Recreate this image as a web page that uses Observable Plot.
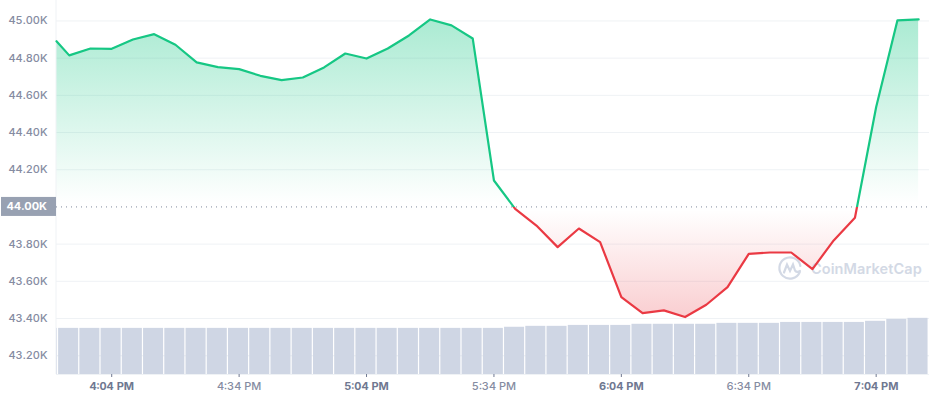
<!DOCTYPE html>
<html><head><meta charset="utf-8">
<script src="https://cdn.jsdelivr.net/npm/d3@7"></script>
<script src="https://cdn.jsdelivr.net/npm/@observablehq/plot@0.6"></script>
<style>html,body{margin:0;padding:0;background:#fff}svg{display:block}</style>
</head><body><div id="chart"></div>
<script>
const priceMinutes = [231,234,239,244,249,254,259,264,269,274,279,284,289,294,299,304,309,314,319,324,329,334,339,344,349,354,359,364,369,374,379,384,389,394,399,404,409,414,419,424,429,434];
const prices = [44891,44815,44852,44850,44900,44929,44872,44777,44752,44741,44705,44682,44696,44750,44825,44798,44852,44922,45008,44976,44906,44142,43990,43900,43784,43884,43811,43515,43429,43444,43408,43474,43569,43748,43755,43755,43666,43820,43942,44537,45003,45008];
const barMinutes = [229,234,239,244,249,254,259,264,269,274,279,284,289,294,299,304,309,314,319,324,329,334,339,344,349,354,359,364,369,374,379,384,389,394,399,404,409,414,419,424,429,434];
const barLevels = [43347,43347,43347,43347,43347,43347,43347,43347,43347,43347,43347,43347,43347,43347,43347,43347,43347,43347,43347,43347,43347,43347,43353,43358,43358,43363,43363,43363,43369,43369,43369,43369,43374,43374,43374,43379,43379,43379,43379,43385,43395,43401];
const yTicks = [43200,43400,43600,43800,44200,44400,44600,44800,45000];
const baseline = 44000;
const boldTicks = [244,304,364,424];
const lightTicks = [274,334,394];
const GREEN = "#16c784", RED = "#ea3943", GRID = "#eff2f5", LABEL = "#858ca2", DARK = "#6f7891";

const toDate = m => new Date(Date.UTC(2021, 0, 1) + m * 60000);
const fmtTime = d => { const h = d.getUTCHours(); return `${h % 12 || 12}:${String(d.getUTCMinutes()).padStart(2,"0")} PM`; };
const series = priceMinutes.map((m,i) => ({t: toDate(m), v: prices[i]}));
const bars = barMinutes.map((m,i) => ({t1: toDate(m-2.5), t2: toDate(m+2.5), v: barLevels[i]}));

function defsMark(index, scales) {
  const y0 = scales.y(baseline), yTop = scales.y(45000), yBot = scales.y(43400);
  const defs = d3.create("svg:defs");
  const area = defs.append("linearGradient").attr("id","areaGrad").attr("gradientUnits","userSpaceOnUse")
    .attr("x1",0).attr("x2",0).attr("y1",yTop).attr("y2",yBot);
  const off = (y0-yTop)/(yBot-yTop);
  [[0,GREEN,.36],[off-.01,GREEN,0],[off,GREEN,0],[off,RED,0],[off+.012,RED,0],[1,RED,.25]].forEach(([o,c,a]) =>
    area.append("stop").attr("offset",o).attr("stop-color",c).attr("stop-opacity",a));
  const line = defs.append("linearGradient").attr("id","lineGrad").attr("gradientUnits","userSpaceOnUse")
    .attr("x1",0).attr("x2",0).attr("y1",yTop).attr("y2",yBot);
  [[0,GREEN],[off,GREEN],[off,RED],[1,RED]].forEach(([o,c]) =>
    line.append("stop").attr("offset",o).attr("stop-color",c));
  return defs.node();
}
function badgeMark(index, scales) {
  const y0 = scales.y(baseline);
  const g = d3.create("svg:g");
  g.append("rect").attr("x",1).attr("width",55).attr("y",y0-9.5).attr("height",19).attr("fill","#98a1b2");
  g.append("text").attr("x",47).attr("y",y0).attr("dy","0.36em").attr("text-anchor","end")
    .attr("fill","#fff").attr("font-weight",700).attr("font-size",11).text("44.00K");
  return g.node();
}
function watermarkMark(index, scales, values, dims) {
  const g = d3.create("svg:g").attr("transform", `translate(${dims.width - 139},${dims.height - 132})`);
  const ink = "#d3d9e5";
  g.append("path").attr("fill","none").attr("stroke",ink).attr("stroke-width",2.2).attr("stroke-linecap","round")
    .attr("d","M9.8 4 A10.6 10.6 0 1 1 10.4 -2 M-6 4.5 L-3 -3.5 L0 3 L3 -3.5 L5 2.5 Q7 5 10 3");
  g.append("text").attr("x",21).attr("y",1).attr("dy","0.36em").attr("text-anchor","start").attr("fill",ink)
    .attr("font-size",14.5).attr("font-weight",600).attr("letter-spacing",0.1).text("CoinMarketCap");
  return g.node();
}
const chart = Plot.plot({
  width: 929, height: 400,
  marginLeft: 56, marginRight: 0, marginTop: 0, marginBottom: 26,
  style: {fontFamily: "Inter, sans-serif", fontSize: "11px", background: "#fff"},
  x: {type: "utc", domain: [toDate(231), toDate(231 + 873/4.247)], range: [56, 929], label: null},
  y: {domain: [43099, 45110], range: [374, 0], label: null},
  marks: [
    defsMark,
    Plot.ruleY(yTicks.concat(43200), {stroke: GRID, strokeWidth: 1}),
    Plot.areaY(series, {x: "t", y1: baseline, y2: "v", fill: "url(#areaGrad)"}),
    Plot.rectY(bars, {x1: "t1", x2: "t2", y1: 43099, y2: "v", fill: "#cfd6e4", insetRight: 1.2, clip: true}),
    Plot.ruleX([toDate(231)], {stroke: GRID, strokeWidth: 1, dx: -0.5}),
    Plot.ruleY([43099], {stroke: GRID, strokeWidth: 1}),
    Plot.ruleY([baseline], {stroke: "#808a9d", strokeWidth: 1, strokeDasharray: "1 4"}),
    watermarkMark,
    Plot.lineY(series, {x: "t", y: "v", stroke: "url(#lineGrad)", strokeWidth: 2.2, strokeLinejoin: "round"}),
    Plot.axisY({ticks: yTicks, tickSize: 0, tickPadding: 9, tickFormat: d => (d/1000).toFixed(2) + "K", fill: LABEL, label: null, fontWeight: 500}),
    Plot.axisX({ticks: boldTicks.map(toDate), tickSize: 3, tickPadding: 5, tickFormat: fmtTime, fill: DARK, stroke: DARK, fontWeight: 700, label: null}),
    Plot.axisX({ticks: lightTicks.map(toDate), tickSize: 3, tickPadding: 5, tickFormat: fmtTime, fill: LABEL, stroke: DARK, fontWeight: 500, label: null}),
    badgeMark
  ]
});
document.getElementById("chart").append(chart);
</script></body></html>
